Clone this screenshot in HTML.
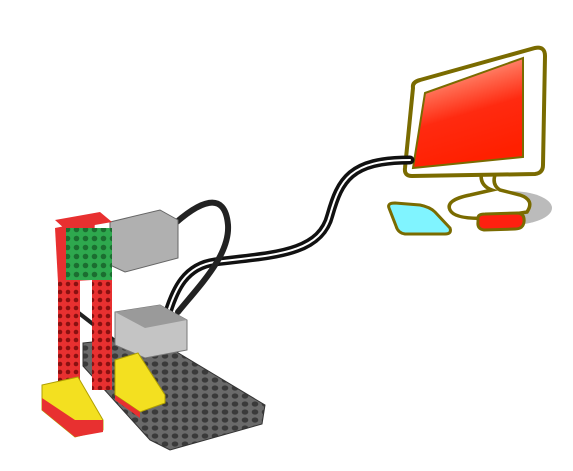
<!DOCTYPE html>
<html><head><meta charset="utf-8"><style>
html,body{margin:0;padding:0;background:#fff;width:573px;height:471px;overflow:hidden}
</style></head><body>
<svg width="573" height="471" viewBox="0 0 573 471">
<defs>
<linearGradient id="scr" x1="0" y1="0" x2="0.3" y2="1"><stop offset="0" stop-color="#ffd0c0"/><stop offset="0.35" stop-color="#ff6a50"/><stop offset="0.6" stop-color="#ff2a10"/><stop offset="1" stop-color="#ff2000"/></linearGradient>
<pattern id="studs" width="10" height="8" patternUnits="userSpaceOnUse"><rect width="10" height="8" fill="#6a6a6a"/><ellipse cx="5" cy="4" rx="3.3" ry="2.6" fill="#3a3a3a"/></pattern>
<pattern id="gstuds" width="9" height="9" patternUnits="userSpaceOnUse"><rect width="9" height="9" fill="#2ea84e"/><circle cx="4.5" cy="4.5" r="2.8" fill="#1b6e30"/></pattern>
<pattern id="holes" width="8" height="8" patternUnits="userSpaceOnUse"><rect width="8" height="8" fill="#e83030"/><circle cx="4" cy="4" r="2.3" fill="#8a1010"/></pattern>
</defs>
<g>
<ellipse cx="510" cy="208" rx="42" ry="17" fill="#bbb"/>
<path d="M482 170 Q478 185 492 190 L470 195 Q445 200 450 210 Q455 220 490 218 L527 212 Q535 200 520 195 L500 190 Q490 184 497 170 Z" fill="#fff" stroke="#7a6b00" stroke-width="3.5"/>
<path d="M413 88 Q412 82 420 80 L535 48 Q545 46 545 56 L543 165 Q543 173 535 174 L412 176 Q404 176 405 168 Z" fill="#fff" stroke="#7a6b00" stroke-width="4"/>
<path d="M425 93 L523 58 L523 157 L413 168 Z" fill="url(#scr)" stroke="#7a6b00" stroke-width="2"/>
<path d="M389 208 Q387 203 395 203 L420 205 Q430 207 435 212 L450 228 Q452 234 445 234 L405 234 Q398 233 396 226 Z" fill="#80f4ff" stroke="#7a6b00" stroke-width="3"/>
<path d="M478 218 Q478 214 485 214 L518 213 Q525 214 524 222 Q523 229 515 229 L484 230 Q477 229 478 222 Z" fill="#ff2010" stroke="#7a6b00" stroke-width="3"/>
</g>
<g fill="none" stroke-linecap="round">
<path d="M410 160 C350 160 340 180 330 215 C320 255 270 255 215 262 C185 266 175 290 168 312" stroke="#111" stroke-width="9"/>
<path d="M410 160 C350 160 340 180 330 215 C320 255 270 255 215 262 C185 266 175 290 168 312" stroke="#fff" stroke-width="2"/>
<path d="M170 228 C200 200 225 190 228 225 C230 255 200 285 178 312" stroke="#222" stroke-width="6"/>
<path d="M62 300 L120 345" stroke="#222" stroke-width="4"/>
</g>
<g>
<polygon points="83,343 150,336 265,405 262,424 170,450 150,440 83,366" fill="url(#studs)" stroke="#333" stroke-width="1"/>
<path d="M115 312 L160 305 L187 320 L187 350 L145 358 L115 345 Z" fill="#c4c4c4" stroke="#777" stroke-width="1"/>
<path d="M115 312 L160 305 L187 320 L145 328 Z" fill="#9a9a9a"/>
<path d="M110 222 L160 210 L178 220 L178 258 L125 272 L110 265 Z" fill="#b0b0b0" stroke="#666" stroke-width="1"/>
<polygon points="55,228 95,220 92,280 58,282" fill="#e83030"/>
<polygon points="55,220 100,212 112,222 66,230" fill="#e83030"/>
<rect x="66" y="228" width="46" height="52" fill="url(#gstuds)"/>
<rect x="58" y="280" width="22" height="107" fill="url(#holes)"/>
<rect x="92" y="280" width="20" height="110" fill="url(#holes)"/>
<polygon points="115,360 138,353 165,395 165,403 140,412 115,395" fill="#f3e020" stroke="#b0a000" stroke-width="1"/>
<polygon points="115,395 140,412 140,418 115,400" fill="#e83030"/>
<polygon points="42,385 78,377 103,420 103,430 75,437 42,410" fill="#f3e020" stroke="#b0a000" stroke-width="1"/>
<polygon points="42,398 75,420 103,420 103,432 75,437 42,410" fill="#e83030"/>
</g>
</svg>
</body></html>
